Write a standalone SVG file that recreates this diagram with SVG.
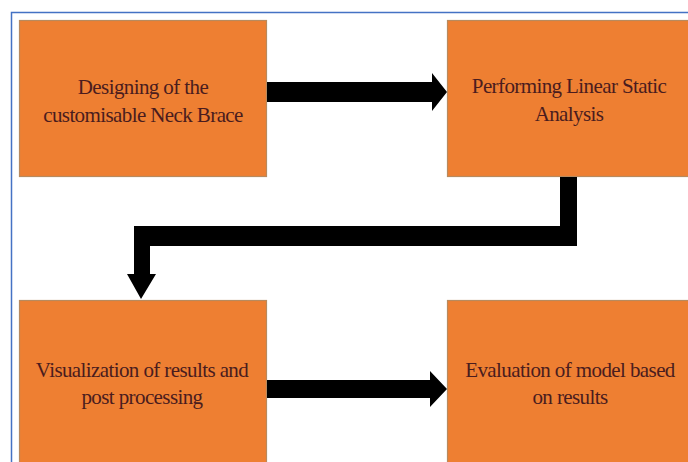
<svg xmlns="http://www.w3.org/2000/svg" width="688" height="462" viewBox="0 0 688 462">
<style>
.frame{fill:none;stroke:#4472C4;stroke-width:1.5}
.box{fill:#EE7F32;stroke:#B88A5E;stroke-width:1.2}
.lbl{font-family:"Liberation Serif","Times New Roman",serif;font-size:21px;fill:#4A1C1E;text-anchor:middle;letter-spacing:-0.6px}
.conn{fill:#000}
</style>
<rect width="688" height="462" fill="#fff"/>
<path class="frame" d="M11.5,470 V12.5 H690"/>
<g id="node1">
<rect class="box" x="19.5" y="20.5" width="247" height="156"/>
<text class="lbl" x="143" y="94">Designing of the</text>
<text class="lbl" x="143" y="122">customisable Neck Brace</text>
</g>
<g id="node2">
<rect class="box" x="447.5" y="20.5" width="250" height="156"/>
<text class="lbl" x="569" y="93">Performing Linear Static</text>
<text class="lbl" x="569" y="121">Analysis</text>
</g>
<g id="node3">
<rect class="box" x="19.5" y="300.5" width="247" height="170"/>
<text class="lbl" x="142" y="377">Visualization of results and</text>
<text class="lbl" x="142" y="404">post processing</text>
</g>
<g id="node4">
<rect class="box" x="447.5" y="300.5" width="250" height="170"/>
<text class="lbl" x="570" y="377">Evaluation of model based</text>
<text class="lbl" x="570" y="404">on results</text>
</g>
<g id="connectors">
<polygon class="conn" points="267,82 432,82 432,73 447,92 432,111 432,102 267,102"/>
<polygon class="conn" points="560,177 577,177 577,246 150,246 150,274 156,274 141,299 127,274 134,274 134,226 560,226"/>
<polygon class="conn" points="267,380 430,380 430,371 447,389 430,407 430,398 267,398"/>
</g>
</svg>
